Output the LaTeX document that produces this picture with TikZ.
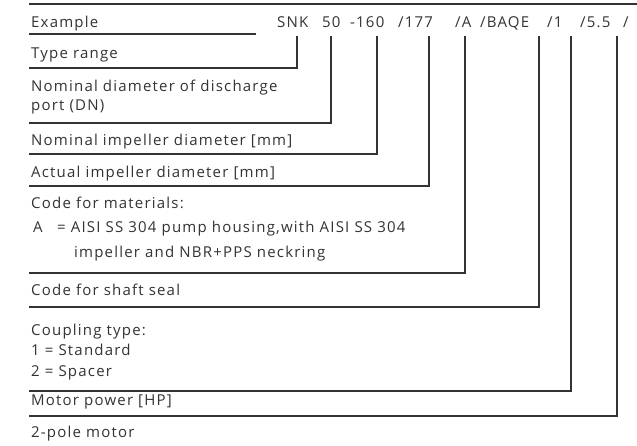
\documentclass[tikz,border=0pt]{standalone}
\usepackage{fontspec}
\setmainfont[LetterSpace=8]{Open Sans}
\usetikzlibrary{positioning}
\definecolor{ink}{HTML}{333333}

\tikzset{
  lbl/.style={anchor=base west, inner sep=0pt, text=ink},
  code/.style={anchor=base west, inner sep=0pt, text=ink},
  rule/.style={draw=ink, line width=2pt},
}

\begin{document}
\begin{tikzpicture}[x=1pt, y=-1pt, font=\fontsize{15}{19.5}\selectfont]
\useasboundingbox (0,0) rectangle (637,445);
\def\lx{29}
\def\tx{31}
\def\vtop{36}
% designation code
\node[code] (cSNK) at (277,27) {SNK};
\node[code] (cDN) at (322,27) {50};
\node[code] (cNom) at (350,27) {-160};
\node[code] (cAct) at (398,27) {/177};
\node[code] (cMat) at (455,27) {/A};
\node[code] (cSeal) at (480,27) {/BAQE};
\node[code] (cCpl) at (547,27) {/1};
\node[code] (cPow) at (580,27) {/5.5};
\node[code] (cPole) at (623,27) {/};
% labels
\node[lbl] (lEx) at (\tx,27) {Example};
\node[lbl] (lType) at (\tx,58) {Type range};
\node[lbl] (lDN) at (\tx,91) {Nominal diameter of discharge};
\node[lbl] (lDNb) at (\tx,110) {port (DN)};
\node[lbl] (lNom) at (\tx,145) {Nominal impeller diameter [mm]};
\node[lbl] (lAct) at (\tx,177) {Actual impeller diameter [mm]};
\node[lbl] (lMat) at (\tx,208) {Code for materials:};
\node[lbl] (lMatA) at (33,232) {A};
\node[lbl] (lMatAt) at (57,232) {= AISI SS 304 pump housing,with AISI SS 304};
\node[lbl] (lMatB) at (74,257) {impeller and NBR+PPS neckring};
\node[lbl] (lSeal) at (\tx,295) {Code for shaft seal};
\node[lbl] (lCpl) at (\tx,335) {Coupling type:};
\node[lbl] (lCplA) at (\tx,355) {1 = Standard};
\node[lbl] (lCplB) at (\tx,376) {2 = Spacer};
\node[lbl] (lPow) at (\tx,405) {Motor power [HP]};
\node[lbl] (lPole) at (\tx,437) {2-pole motor};
% line ends
\coordinate (tSNK) at (297,\vtop);
\coordinate (tDN) at (331,\vtop);
\coordinate (tNom) at (377,\vtop);
\coordinate (tAct) at (429,\vtop);
\coordinate (tMat) at (465,\vtop);
\coordinate (tSeal) at (539,\vtop);
\coordinate (tCpl) at (571,\vtop);
\coordinate (tPow) at (617,\vtop);
\coordinate (eSNK) at (\lx,68);
\coordinate (eDN) at (\lx,123);
\coordinate (eNom) at (\lx,154);
\coordinate (eAct) at (\lx,186);
\coordinate (eMat) at (\lx,273);
\coordinate (eSeal) at (\lx,307);
\coordinate (eCpl) at (\lx,391);
\coordinate (ePow) at (\lx,416);
\draw[draw=ink, line width=2.7pt] (\lx,4) -- (637,4);
\draw[rule] (\lx,34) -- (256,34);
\draw[rule] (tSNK) |- (eSNK);
\draw[rule] (tDN) |- (eDN);
\draw[rule] (tNom) |- (eNom);
\draw[rule] (tAct) |- (eAct);
\draw[rule] (tMat) |- (eMat);
\draw[rule] (tSeal) |- (eSeal);
\draw[rule] (tCpl) |- (eCpl);
\draw[rule] (tPow) |- (ePow);
\end{tikzpicture}
\end{document}
